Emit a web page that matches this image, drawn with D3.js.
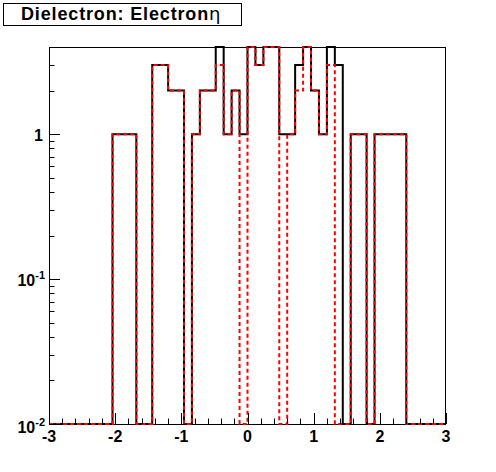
<!DOCTYPE html>
<html><head><meta charset="utf-8">
<script src="https://cdn.jsdelivr.net/npm/d3@7"></script>
<style>body{margin:0;background:#fff} svg{display:block}</style>
</head><body><svg id="c" width="496" height="472"></svg>
<script>
// ---- data ----
const titleText = "Dielectron: Electron";
const titleSymbol = "η";
const xMin = -3, xMax = 3, nBins = 50;
const blackCounts = [0,0,0,0,0,0,0,0,1,1, 1,0,0,3,3,2,2,0,1,2, 2,4,1,2,1,4,3,4,4,1, 1,3,4,2,1,4,3,0,1,1, 0,1,1,1,1,0,0,0,0,0];
const redCounts   = [0,0,0,0,0,0,0,0,1,1, 1,0,0,3,3,2,2,0,1,2, 2,3,1,2,0,4,3,4,4,0, 1,2,4,2,1,3,0,0,1,1, 0,1,1,1,1,0,0,0,0,0];
const xTickValues = [-3,-2,-1,0,1,2,3];
const xTickLabels = ["-3","-2","-1","0","1","2","3"];
const yTickValues = [0.01,0.1,1];
const yTickBase = ["10","10","1"];
const yTickExp = ["-2","-1",""];
const yMin = 0.01, yMax = 4;

// ---- layout ----
const svg = d3.select("#c");
const L = 49, R = 446, T = 47, B = 424;
const x = d3.scaleLinear().domain([xMin, xMax]).range([L, R]);
const y = d3.scaleLog().domain([yMin, yMax]).range([B, T]).clamp(true);
const binW = (xMax - xMin) / nBins;

function stepPoints(counts){
  const pts = [];
  counts.forEach((v,i)=>{
    const x0 = xMin + i*binW, x1 = x0 + binW;
    const vv = Math.max(v, yMin);
    pts.push([x0, vv]); pts.push([x1, vv]);
  });
  return pts;
}
const line = d3.line().x(d=>x(d[0])).y(d=>y(d[1]));

// frame
svg.append("rect").attr("x", L+0.5).attr("y", T+0.5).attr("width", R-L-1).attr("height", B-T)
  .attr("fill","none").attr("stroke","#000").attr("stroke-width",1);

// histograms
svg.append("path").attr("d", line(stepPoints(blackCounts)))
  .attr("fill","none").attr("stroke","#000").attr("stroke-width",2);
svg.append("path").attr("d", line(stepPoints(redCounts)))
  .attr("fill","none").attr("stroke","#ff0000").attr("stroke-width",2)
  .attr("stroke-dasharray","4,3");

// x axis ticks
const gx = svg.append("g");
const xMinor = d3.range(-15, 16).map(k=>k*0.2);
xMinor.forEach(v=>{
  const isMajor = Math.abs(v - Math.round(v)) < 1e-6;
  gx.append("line").attr("x1", Math.round(x(v))+0.5).attr("x2", Math.round(x(v))+0.5)
    .attr("y1", B).attr("y2", B - (isMajor ? 11 : 5.5))
    .attr("stroke","#000").attr("stroke-width",1);
});
xTickValues.forEach((v,i)=>{
  gx.append("text").attr("x", x(v)).attr("y", 442)
    .attr("text-anchor","middle")
    .attr("font-family","Liberation Sans, Arial, sans-serif")
    .attr("font-weight","bold").attr("font-size",16)
    .text(xTickLabels[i]);
});

// y axis ticks
const gy = svg.append("g");
const yMinorVals = [];
[0.01,0.1,1].forEach(d=>{ for(let m=1;m<=9;m++){ const v=d*m; if(v<=yMax+1e-9) yMinorVals.push(v);} });
yMinorVals.forEach(v=>{
  const isMajor = yTickValues.some(t=>Math.abs(t-v)<1e-9);
  const yy = Math.round(y(v))+0.5;
  gy.append("line").attr("x1", L).attr("x2", L + (isMajor ? 11 : 5.5))
    .attr("y1", yy).attr("y2", yy).attr("stroke","#000").attr("stroke-width",1);
});
yTickValues.forEach((v,i)=>{
  const t = gy.append("text").attr("x", i===2 ? 43 : 45).attr("y", y(v) + (i===0 ? 9 : 7))
    .attr("text-anchor","end")
    .attr("font-family","Liberation Sans, Arial, sans-serif")
    .attr("font-weight","bold").attr("font-size",16);
  t.append("tspan").text(yTickBase[i]);
  if (yTickExp[i]) t.append("tspan").attr("dy",-7).attr("font-size",11).text(yTickExp[i]);
});

// title box
svg.append("rect").attr("x",3.5).attr("y",3.5).attr("width",238).attr("height",22)
  .attr("fill","#fff").attr("stroke","#000").attr("stroke-width",1);
const tt = svg.append("text").attr("x",21).attr("y",19.5)
  .attr("font-family","Liberation Sans, Arial, sans-serif")
  .attr("font-weight","bold").attr("font-size",18)
  .attr("letter-spacing","0.85px");
tt.append("tspan").text(titleText);
tt.append("tspan")
  .attr("font-family","DejaVu Sans, sans-serif").attr("font-weight","normal")
  .text(titleSymbol);
</script>
</body></html>
